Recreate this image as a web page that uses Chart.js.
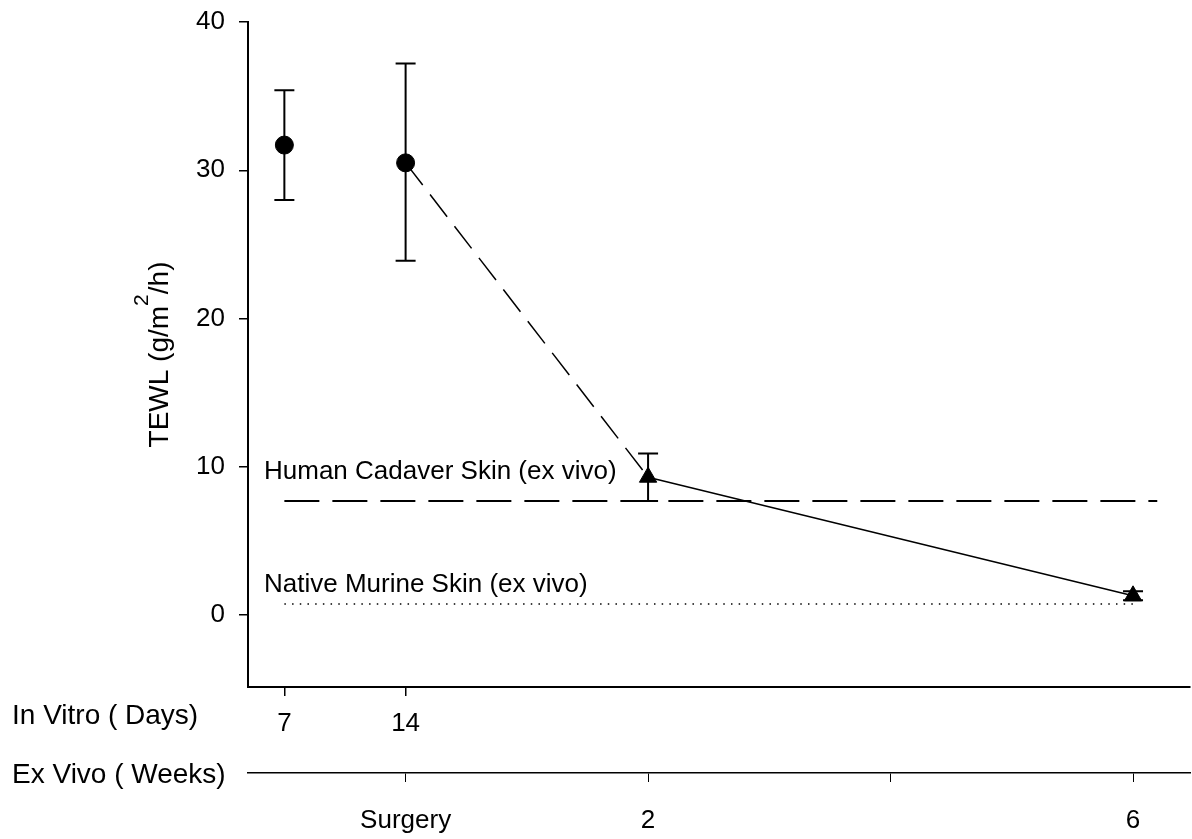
<!DOCTYPE html>
<html>
<head>
<meta charset="utf-8">
<script src="https://cdn.jsdelivr.net/npm/chart.js@4.4.0/dist/chart.umd.min.js"></script>
<style>
  html, body { margin: 0; padding: 0; background: #fff; }
</style>
</head>
<body>
<canvas id="tewl_chart" width="1192" height="839"></canvas>
<script>
// in vitro culture, days (circles)
const inVitroDays = [7, 14];
const inVitroMean = [31.7, 30.5];
const inVitroLow = [28.0, 23.9];
const inVitroHigh = [35.4, 37.2];

// after surgery, weeks (triangles)
const exVivoWeeks = [2, 6];
const exVivoMean = [9.3, 1.3];
const exVivoLow = [7.7, 1.0];
const exVivoHigh = [10.9, 1.6];

// reference skins
const cadaverLevel = 7.7;
const murineLevel = 0.75;
const refStart = -1;
const cadaverEnd = 6.2;
const murineEnd = 6.05;

const yTicks = [0, 10, 20, 30, 40];
const weekTicks = [0, 2, 4, 6];
const weekLabels = ['Surgery', '2', '', '6'];

const FONT = '"Liberation Sans", Arial, sans-serif';

// day 14 of culture = surgery = week 0
function dayPos(d) { return (d - 14) / 7; }

let ctx = document.getElementById('tewl_chart');

let circles = inVitroDays.map((d, i) => ({ x: dayPos(d), y: inVitroMean[i] }));
let triangles = exVivoWeeks.map((w, i) => ({ x: w, y: exVivoMean[i] }));
let trend = [{ x: dayPos(inVitroDays[1]), y: inVitroMean[1] }].concat(triangles);

// error bars + free text
const extras = {
    id: 'extras',
    beforeDatasetsDraw(chart) {
        let c = chart.ctx;
        let xs = chart.scales.x, ys = chart.scales.y;
        let bars = [];
        inVitroDays.forEach((d, i) => bars.push([dayPos(d), inVitroLow[i], inVitroHigh[i]]));
        exVivoWeeks.forEach((w, i) => bars.push([w, exVivoLow[i], exVivoHigh[i]]));
        c.save();
        c.strokeStyle = '#000';
        c.lineWidth = 2;
        bars.forEach(b => {
            let px = xs.getPixelForValue(b[0]);
            let lo = ys.getPixelForValue(b[1]);
            let hi = ys.getPixelForValue(b[2]);
            c.beginPath();
            c.moveTo(px, lo); c.lineTo(px, hi);
            c.moveTo(px - 10, lo); c.lineTo(px + 10, lo);
            c.moveTo(px - 10, hi); c.lineTo(px + 10, hi);
            c.stroke();
        });
        c.restore();
    },
    afterDraw(chart) {
        let c = chart.ctx;
        let ys = chart.scales.y;
        let area = chart.chartArea;
        c.save();
        c.fillStyle = '#000';
        c.textBaseline = 'middle';
        c.textAlign = 'left';

        c.font = '26px ' + FONT;
        c.fillText('Human Cadaver Skin (ex vivo)', 264, ys.getPixelForValue(cadaverLevel) - 29);
        c.fillText('Native Murine Skin (ex vivo)', 264, ys.getPixelForValue(murineLevel) - 19);

        c.font = '28px ' + FONT;
        c.fillText('In Vitro ( Days)', 12, 716);
        c.fillText('Ex Vivo ( Weeks)', 12, 775);

        // y title with superscript
        c.textBaseline = 'alphabetic';
        let parts = [['TEWL (g/m', 28, 0], ['2', 21, -20], ['/h)', 28, 0]];
        let total = 0;
        parts.forEach(p => { c.font = p[1] + 'px ' + FONT; total += c.measureText(p[0]).width; });
        c.translate(168, (area.top + area.bottom) / 2);
        c.rotate(-Math.PI / 2);
        let pos = -total / 2;
        parts.forEach(p => {
            c.font = p[1] + 'px ' + FONT;
            c.fillText(p[0], pos, p[2]);
            pos += c.measureText(p[0]).width;
        });
        c.restore();
    }
};

let data = {
    datasets: [
        {
            label: 'in vitro',
            data: circles,
            showLine: false,
            pointStyle: 'circle',
            pointRadius: 9,
            backgroundColor: '#000',
            borderColor: '#000',
            order: 0
        },
        {
            label: 'ex vivo',
            data: triangles,
            showLine: false,
            pointStyle: 'triangle',
            pointRadius: 10,
            backgroundColor: '#000',
            borderColor: '#000',
            order: 0
        },
        {
            label: 'trend',
            data: trend,
            showLine: true,
            pointRadius: 0,
            borderColor: '#000',
            borderWidth: 1.5,
            segment: {
                borderDash: c => c.p0DataIndex === 0 ? [28, 12] : undefined
            },
            order: 1
        },
        {
            label: 'cadaver',
            data: [{ x: refStart, y: cadaverLevel }, { x: cadaverEnd, y: cadaverLevel }],
            showLine: true,
            pointRadius: 0,
            borderColor: '#000',
            borderWidth: 2,
            borderDash: [35, 13],
            order: 2
        },
        {
            label: 'murine',
            data: [{ x: refStart, y: murineLevel }, { x: murineEnd, y: murineLevel }],
            showLine: true,
            pointRadius: 0,
            borderColor: '#000',
            borderWidth: 1.5,
            borderDash: [1.5, 6.2],
            order: 2
        }
    ]
};

let options = {
    responsive: false,
    animation: false,
    layout: { autoPadding: false, padding: { top: 22, right: 2, left: 0, bottom: 0 } },
    plugins: { legend: { display: false }, tooltip: { enabled: false } },
    scales: {
        y: {
            type: 'linear',
            min: -4.85,
            max: 40,
            afterBuildTicks(scale) { scale.ticks = yTicks.map(v => ({ value: v })); },
            afterFit(scale) {
                scale.width = 248;
                scale.paddingTop = 0;
                scale.paddingBottom = 0;
            },
            border: { display: true, color: '#000', width: 2 },
            grid: { drawOnChartArea: false, color: '#000', lineWidth: 1.5, tickLength: 9 },
            ticks: { color: '#000', font: { family: FONT, size: 26 }, padding: 14 }
        },
        x: {
            type: 'linear',
            position: 'bottom',
            min: -1.3,
            max: 6.47,
            afterBuildTicks(scale) { scale.ticks = inVitroDays.map(d => ({ value: dayPos(d) })); },
            afterFit(scale) { scale.height = 86; },
            border: { display: true, color: '#000', width: 2 },
            grid: { drawOnChartArea: false, color: '#000', lineWidth: 1.5, tickLength: 9 },
            ticks: {
                color: '#000', font: { family: FONT, size: 26 }, padding: 12, maxRotation: 0,
                callback: (v, i) => inVitroDays[i]
            }
        },
        x2: {
            type: 'linear',
            position: 'bottom',
            min: -1.3,
            max: 6.47,
            afterBuildTicks(scale) { scale.ticks = weekTicks.map(w => ({ value: w })); },
            afterFit(scale) { scale.height = 66; },
            border: { display: true, color: '#000', width: 1.5 },
            grid: { drawOnChartArea: false, color: '#000', lineWidth: 1, tickLength: 9 },
            ticks: {
                color: '#000', font: { family: FONT, size: 26 }, padding: 23, maxRotation: 0,
                callback: (v, i) => weekLabels[i]
            }
        }
    }
};

let tewlChart = new Chart(ctx, {
    type: 'scatter',
    data: data,
    options: options,
    plugins: [extras]
});
</script>
</body>
</html>
